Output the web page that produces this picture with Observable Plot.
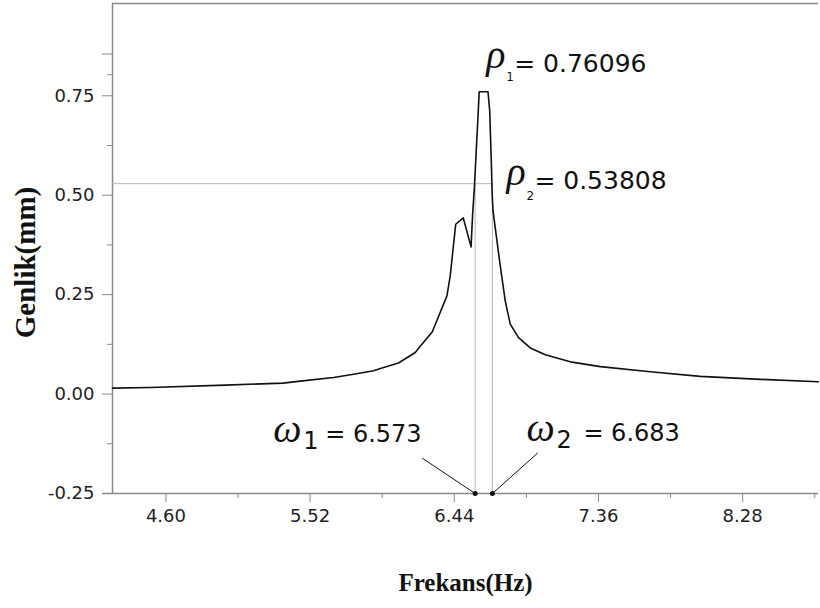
<!DOCTYPE html>
<html><head><meta charset="utf-8">
<script src="https://cdn.jsdelivr.net/npm/d3@7"></script>
<script src="https://cdn.jsdelivr.net/npm/@observablehq/plot@0.6"></script>
<style>body{margin:0;background:#fff}</style>
</head><body><div id="chart"></div>
<script>
// Response curve (Frekans in Hz, Genlik in mm)
const freq = [4.259,4.500,4.978,5.347,5.457,5.670,5.797,5.925,5.989,6.084,6.191,6.223,6.299,6.393,6.414,6.449,6.497,6.547,6.557,6.569,6.580,6.590,6.599,6.655,6.666,6.676,6.682,6.687,6.729,6.765,6.797,6.850,6.925,7.021,7.180,7.372,7.691,8.010,8.393,8.763];
const amp  = [0.015,0.0165,0.0226,0.0276,0.0326,0.0417,0.050,0.0585,0.0668,0.078,0.1045,0.120,0.156,0.247,0.297,0.427,0.443,0.370,0.4525,0.524,0.612,0.687,0.760,0.760,0.712,0.587,0.499,0.461,0.335,0.2345,0.176,0.142,0.116,0.099,0.081,0.069,0.056,0.0445,0.037,0.031];

const xTicks = [4.60,5.52,6.44,7.36,8.28];
const xMinorTicks = [5.06,5.98,6.90,7.82,8.74];
const yTicks = [-0.25,0.00,0.25,0.50,0.75,0.855];
const yMinorTicks = [-0.125,0.125,0.375,0.625,0.803];

const xDomain = [4.259, 8.764];
const yDomain = [-0.25, 0.982];

const omega = [6.573, 6.683];          // ω1, ω2
const rho = [0.76096, 0.53808];        // ρ1, ρ2 (labels)
const peakStart = 6.599;               // start of flat peak top
const halfPowerLevel = 0.529;          // drawn level of ρ2 line
const leaderStarts = [{x: 6.235, y: -0.161}, {x: 6.973, y: -0.148}];

const curve = freq.map((f, i) => ({f, a: amp[i]}));
const dots = omega.map(w => ({x: w, y: yDomain[0]}));
const links = omega.map((w, i) => ({x1: leaderStarts[i].x, y1: leaderStarts[i].y, x2: w, y2: yDomain[0]}));

const fmt = d => d.toFixed(2);
const axisColor = "#8a8a8a";
const greek = "Liberation Serif";
const sans = "DejaVu Sans";

const chart = Plot.plot({
  width: 820, height: 608,
  marginLeft: 112, marginRight: 2, marginTop: 3, marginBottom: 115,
  style: {fontFamily: sans, fontSize: "18px", color: "#222", background: "#fff"},
  x: {domain: xDomain},
  y: {domain: yDomain},
  marks: [
    // frame lines
    Plot.ruleY([yDomain[1]], {stroke: axisColor, strokeWidth: 1.5}),
    Plot.ruleX([xDomain[0]], {stroke: axisColor, strokeWidth: 1.5}),
    Plot.ruleY([yDomain[0]], {x1: 4.195, x2: xDomain[1], stroke: axisColor, strokeWidth: 1.5}),
    // axes
    Plot.axisX({ticks: xTicks, tickFormat: fmt, tickSize: 9, tickPadding: 7, stroke: axisColor, label: null, fill: "#222"}),
    Plot.axisX({ticks: xMinorTicks, tickFormat: () => "", tickSize: 5, stroke: axisColor, label: null}),
    Plot.axisY({ticks: yTicks, tickFormat: d => d > 0.8 ? "" : fmt(d), tickSize: 10, tickPadding: 8, stroke: axisColor, label: null, fill: "#222"}),
    Plot.axisY({ticks: yMinorTicks, tickFormat: () => "", tickSize: 5, stroke: axisColor, label: null}),
    // reference lines
    Plot.ruleY([halfPowerLevel], {x1: xDomain[0], x2: omega[1], stroke: "#b8b8b8", strokeWidth: 1}),
    Plot.ruleX(omega, {y1: yDomain[0], y2: halfPowerLevel, stroke: "#b8b8b8", strokeWidth: 1}),
    // curve
    Plot.line(curve, {x: "f", y: "a", stroke: "#111", strokeWidth: 1.6}),
    // leader lines and dots
    Plot.link(links, {x1: "x1", y1: "y1", x2: "x2", y2: "y2", stroke: "#111", strokeWidth: 1}),
    Plot.dot(dots, {x: "x", y: "y", r: 2.5, fill: "#111", stroke: null}),
    // rho1 label
    Plot.text(["ρ"], {x: peakStart, y: rho[0], text: d => d, fontFamily: greek, fontStyle: "italic", fontSize: 40, textAnchor: "start", lineAnchor: "bottom", dx: 7, dy: -23, fill: "#111"}),
    Plot.text(["1"], {x: peakStart, y: rho[0], text: d => d, fontFamily: sans, fontSize: 12, textAnchor: "start", lineAnchor: "bottom", dx: 27, dy: -10, fill: "#111"}),
    Plot.text([rho[0]], {x: peakStart, y: rho[0], text: d => "= " + d, fontFamily: sans, fontSize: 25, textAnchor: "start", lineAnchor: "bottom", dx: 35, dy: -19, fill: "#111"}),
    // rho2 label
    Plot.text(["ρ"], {x: omega[1], y: halfPowerLevel, text: d => d, fontFamily: greek, fontStyle: "italic", fontSize: 40, textAnchor: "start", lineAnchor: "bottom", dx: 14, dy: 1.5, fill: "#111"}),
    Plot.text(["2"], {x: omega[1], y: halfPowerLevel, text: d => d, fontFamily: sans, fontSize: 12, textAnchor: "start", lineAnchor: "bottom", dx: 34, dy: 16, fill: "#111"}),
    Plot.text([rho[1]], {x: omega[1], y: halfPowerLevel, text: d => "= " + d, fontFamily: sans, fontSize: 25, textAnchor: "start", lineAnchor: "bottom", dx: 42, dy: 5, fill: "#111"}),
    // omega1 label
    Plot.text(["ω"], {x: omega[0], y: yDomain[0], text: d => d, fontFamily: greek, fontStyle: "italic", fontSize: 40, textAnchor: "start", lineAnchor: "bottom", dx: -202, dy: -52, fill: "#111"}),
    Plot.text(["1"], {x: omega[0], y: yDomain[0], text: d => d, fontFamily: sans, fontSize: 24, textAnchor: "start", lineAnchor: "bottom", dx: -172, dy: -45, fill: "#111"}),
    Plot.text([omega[0]], {x: omega[0], y: yDomain[0], text: d => "= " + d, fontFamily: sans, fontSize: 24, textAnchor: "start", lineAnchor: "bottom", dx: -150, dy: -52, fill: "#111"}),
    // omega2 label
    Plot.text(["ω"], {x: omega[1], y: yDomain[0], text: d => d, fontFamily: greek, fontStyle: "italic", fontSize: 40, textAnchor: "start", lineAnchor: "bottom", dx: 34, dy: -53, fill: "#111"}),
    Plot.text(["2"], {x: omega[1], y: yDomain[0], text: d => d, fontFamily: sans, fontSize: 24, textAnchor: "start", lineAnchor: "bottom", dx: 64, dy: -46, fill: "#111"}),
    Plot.text([omega[1]], {x: omega[1], y: yDomain[0], text: d => "= " + d, fontFamily: sans, fontSize: 24, textAnchor: "start", lineAnchor: "bottom", dx: 91, dy: -53, fill: "#111"}),
    // axis titles
    Plot.text(["Frekans(Hz)"], {frameAnchor: "bottom", text: d => d, fontFamily: "Liberation Serif", fontWeight: "bold", fontSize: 25, textAnchor: "middle", lineAnchor: "bottom", dy: 97, fill: "#111"}),
    Plot.text(["Genlik(mm)"], {frameAnchor: "left", text: d => d, fontFamily: "Liberation Serif", fontWeight: "bold", fontSize: 29, rotate: -90, textAnchor: "middle", lineAnchor: "bottom", dx: -78, dy: 14, fill: "#111"})
  ]
});
document.getElementById("chart").appendChild(chart);
</script>
</body></html>
